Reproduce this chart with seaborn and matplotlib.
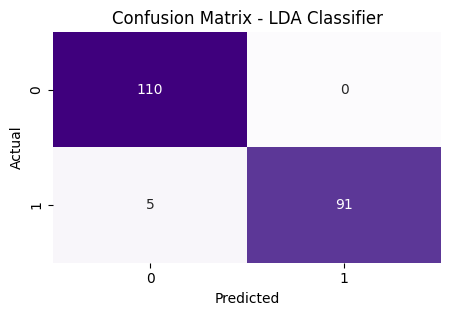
import matplotlib
matplotlib.use("Agg")
from matplotlib import pyplot as plt
import seaborn as sns
import numpy as np

# confusion matrix values
labels = ["0", "1"]
counts = np.array([[110, 0],
                   [5, 91]])

fig = plt.figure(figsize=(4.5, 3.16), dpi=100)
ax = fig.add_axes([0.118, 0.169, 0.862, 0.730])
sns.heatmap(counts, annot=True, fmt="d", cmap="Purples", cbar=False,
            xticklabels=labels, yticklabels=labels, ax=ax)
ax.set_title("Confusion Matrix - LDA Classifier")
ax.set_xlabel("Predicted")
ax.set_ylabel("Actual")
fig.savefig("out.png", dpi=100)
